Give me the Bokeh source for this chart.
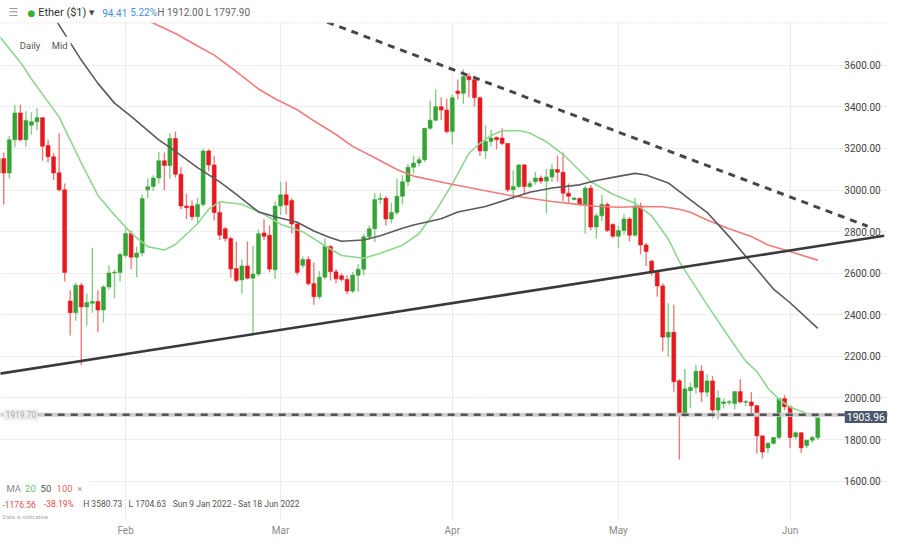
import numpy as np
import pandas as pd
from bokeh.plotting import figure
from bokeh.models import ColumnDataSource, FixedTicker, Label, BoxAnnotation, Span, Grid, LinearAxis
from bokeh.core.properties import value
from bokeh.embed import file_html
from bokeh.resources import INLINE

# ---------------- data (Ether $1, daily, mid) ----------------
START = "2022-01-09"
opens = [3080.5, 3152, 3082, 3242, 3371, 3242, 3312, 3328, 3348, 3214, 3160, 3083, 3001, 2467, 2410, 2542,
         2438, 2456, 2464, 2423, 2534, 2601, 2604, 2685, 2791, 2677, 2697, 3001, 3017, 3058, 3141, 3118,
         3248, 3076, 2923, 2923, 2872, 2931, 3188, 3121, 2892, 2814, 2767, 2623, 2568, 2635, 2576, 2596,
         2794, 2783, 2617, 2923, 2977, 2950, 2837, 2638, 2666, 2550, 2487, 2581, 2729, 2607, 2588, 2570,
         2514, 2590, 2619, 2775, 2814, 2954, 2960, 2861, 2892, 2970, 3040, 3110, 3130, 3146, 3297, 3336,
         3401, 3385, 3281, 3476, 3465, 3546, 3530, 3444, 3188, 3234, 3253, 3250, 3224, 3001, 3017, 3121,
         3017, 3040, 3058, 3043, 3063, 3099, 3086, 2985, 2954, 2959, 2931, 3009, 2822, 2876, 2931, 2834,
         2778, 2806, 2861, 2783, 2923, 2736, 2658, 2604, 2539, 2293, 2316, 2083, 1919.70, 2036, 2051, 2129,
         2028, 2082, 1942, 1973, 1978, 1973, 2031, 1979, 1981, 1963, 1818, 1760, 1782, 1810, 1997, 1958,
         1813, 1833, 1771, 1797, 1809.55]
highs = [3200, 3180, 3261, 3410, 3410, 3379, 3374, 3393, 3351, 3242, 3177, 3273, 3032, 2518, 2554, 2554,
         2503, 2721, 2518, 2542, 2638, 2615, 2700, 2814, 2806, 2729, 2978, 3055, 3071, 3183, 3180, 3273,
         3281, 3110, 2981, 2950, 2962, 3198, 3196, 3164, 2940, 2822, 2775, 2752, 2666, 2752, 2732, 2810,
         2860, 2830, 2946, 3040, 3040, 2960, 2845, 2680, 2682, 2650, 2610, 2767, 2735, 2620, 2600, 2590,
         2605, 2643, 2790, 2830, 2985, 2985, 2970, 2940, 3055, 3071, 3125, 3165, 3160, 3300, 3429, 3484,
         3445, 3440, 3460, 3530, 3580.73, 3561, 3550, 3450, 3312, 3290, 3258, 3297, 3226, 3094, 3125, 3125,
         3045, 3087, 3070, 3102, 3125, 3165, 3180, 3032, 2965, 2965, 3020, 3024, 2890, 2977, 2940, 2840,
         2830, 2884, 2870, 2962, 2940, 2745, 2666, 2612, 2550, 2456, 2448, 2090, 2140, 2075, 2160, 2156,
         2114, 2106, 2036, 1997, 1990, 2031, 2090, 1990, 2028, 1966, 1818, 1790, 1812, 2000, 2015, 1960,
         1840, 1835, 1800, 1820, 1912.00]
lows = [3055, 2931, 3055, 3206, 3234, 3208, 3266, 3289, 3141, 3133, 3048, 2993, 2560, 2300, 2371, 2160,
        2347, 2410, 2316, 2363, 2520, 2480, 2560, 2674, 2620, 2581, 2680, 2962, 2996, 3032, 3000, 3055,
        3060, 2908, 2861, 2855, 2838, 2920, 3090, 2853, 2760, 2752, 2578, 2555, 2503, 2570, 2305, 2585,
        2760, 2604, 2573, 2880, 2884, 2791, 2590, 2625, 2540, 2448, 2475, 2570, 2565, 2550, 2560, 2498,
        2505, 2511, 2590, 2760, 2750, 2930, 2830, 2840, 2880, 2930, 3020, 3080, 3115, 3135, 3290, 3330,
        3336, 3272, 3219, 3437, 3413, 3445, 3400, 3164, 3149, 3210, 3195, 3215, 2990, 2954, 3010, 2978,
        3010, 3025, 3030, 2887, 3040, 3040, 2946, 2939, 2950, 2925, 2791, 2806, 2767, 2850, 2798, 2770,
        2721, 2785, 2752, 2775, 2690, 2635, 2588, 2487, 2223, 2199, 2030, 1704.63, 1905, 1950, 2020, 1981,
        2005, 1903, 1896, 1950, 1966, 1945, 1973, 1960, 1927, 1732, 1709, 1735, 1775, 1800, 1942, 1760,
        1800, 1735, 1760, 1785, 1797.90]
closes = [3152, 3082, 3242, 3371, 3242, 3335, 3328, 3348, 3211, 3160, 3082, 3001, 2604, 2410, 2542, 2438,
          2459, 2464, 2423, 2534, 2601, 2604, 2690, 2791, 2677, 2697, 2959, 3016, 3058, 3141, 3118, 3248,
          3076, 2923, 2915, 2872, 2931, 3188, 3121, 2892, 2783, 2767, 2620, 2565, 2635, 2576, 2596, 2790,
          2778, 2620, 2923, 2977, 2928, 2837, 2604, 2666, 2550, 2487, 2581, 2729, 2607, 2573, 2570, 2514,
          2591, 2619, 2775, 2814, 2954, 2960, 2861, 2892, 2970, 3040, 3110, 3130, 3146, 3297, 3336, 3401,
          3385, 3281, 3444, 3464, 3546, 3530, 3444, 3188, 3234, 3250, 3242, 3224, 3001, 3017, 3121, 3017,
          3032, 3058, 3043, 3063, 3099, 3086, 2985, 2970, 2962, 2931, 3009, 2822, 2876, 2931, 2806, 2778,
          2806, 2861, 2783, 2923, 2736, 2705, 2604, 2539, 2293, 2316, 2078, 1919.70, 2044, 2051, 2129, 2028,
          2082, 1942, 2000, 1981, 1982, 2031, 1981, 1983, 1963, 1818, 1740, 1782, 1810, 1997, 1958, 1810,
          1833, 1760, 1797, 1809.55, 1903.96]

ma20_dates = ["2022-01-09", "2022-01-13", "2022-01-15", "2022-01-18", "2022-01-20", "2022-01-24", "2022-01-27",
              "2022-01-30", "2022-02-02", "2022-02-05", "2022-02-08", "2022-02-10", "2022-02-14", "2022-02-16",
              "2022-02-18", "2022-02-22", "2022-02-26", "2022-03-01", "2022-03-05", "2022-03-09", "2022-03-12",
              "2022-03-16", "2022-03-19", "2022-03-23", "2022-03-26", "2022-03-29", "2022-04-01", "2022-04-04",
              "2022-04-06", "2022-04-08", "2022-04-10", "2022-04-13", "2022-04-15", "2022-04-18", "2022-04-21",
              "2022-04-23", "2022-04-26", "2022-04-30", "2022-05-04", "2022-05-07", "2022-05-10", "2022-05-12",
              "2022-05-14", "2022-05-17", "2022-05-21", "2022-05-24", "2022-05-26", "2022-05-28", "2022-05-30",
              "2022-06-01", "2022-06-03", "2022-06-06"]
ma20_values = [3746, 3615, 3534, 3424, 3351, 3131, 2974, 2880, 2793, 2728, 2712, 2738, 2838, 2907, 2944, 2932,
               2883, 2835, 2800, 2732, 2685, 2672, 2696, 2734, 2791, 2899, 3030, 3176, 3225, 3262, 3285, 3286,
               3274, 3232, 3172, 3119, 3040, 2980, 2936, 2876, 2765, 2656, 2573, 2449, 2291, 2176, 2128, 2047,
               1994, 1956, 1936, 1904]

ma50_dates = ["2022-01-18", "2022-01-20", "2022-01-21", "2022-01-24", "2022-01-27", "2022-01-30", "2022-02-02",
              "2022-02-07", "2022-02-10", "2022-02-14", "2022-02-18", "2022-02-21", "2022-02-25", "2022-02-28",
              "2022-03-04", "2022-03-07", "2022-03-10", "2022-03-12", "2022-03-16", "2022-03-19", "2022-03-23",
              "2022-03-25", "2022-03-30", "2022-04-02", "2022-04-07", "2022-04-12", "2022-04-15", "2022-04-19",
              "2022-04-24", "2022-04-27", "2022-04-30", "2022-05-04", "2022-05-06", "2022-05-10", "2022-05-12",
              "2022-05-14", "2022-05-17", "2022-05-21", "2022-05-25", "2022-05-29", "2022-06-01", "2022-06-06"]
ma50_values = [3877, 3793, 3751, 3625, 3513, 3418, 3354, 3241, 3186, 3108, 3039, 2979, 2895, 2872, 2845, 2803,
               2771, 2754, 2760, 2780, 2816, 2832, 2862, 2894, 2921, 2964, 2989, 3010, 3025, 3046, 3061, 3080,
               3072, 3034, 2994, 2953, 2893, 2776, 2650, 2524, 2458, 2335]

ma100_dates = ["2022-02-03", "2022-02-05", "2022-02-10", "2022-02-14", "2022-02-17", "2022-02-21", "2022-02-25",
               "2022-02-28", "2022-03-04", "2022-03-07", "2022-03-11", "2022-03-14", "2022-03-18", "2022-03-22",
               "2022-03-25", "2022-03-31", "2022-04-06", "2022-04-11", "2022-04-14", "2022-04-19", "2022-04-24",
               "2022-04-27", "2022-05-01", "2022-05-05", "2022-05-09", "2022-05-12", "2022-05-14", "2022-05-17",
               "2022-05-21", "2022-05-25", "2022-05-28", "2022-06-01", "2022-06-06"]
ma100_values = [3840, 3815, 3753, 3693, 3649, 3570, 3486, 3439, 3386, 3333, 3267, 3210, 3155, 3099, 3067, 3033,
                3001, 2976, 2964, 2945, 2930, 2922, 2917, 2921, 2920, 2908, 2893, 2856, 2814, 2777, 2736, 2704,
                2663]

support_dates = ["2022-01-09", "2022-06-18"]
support_values = [2116, 2780]
resist_dates = ["2022-03-05", "2022-06-15"]
resist_values = [3852, 2826]
level_dates = ["2022-01-08", "2022-06-20"]
level_values = [1919.70, 1919.70]
last_price = 1903.96

y_ticks = [1600, 1800, 2000, 2200, 2400, 2600, 2800, 3000, 3200, 3400, 3600]
month_dates = ["2022-02-01", "2022-03-01", "2022-04-01", "2022-05-01", "2022-06-01"]
month_labels = ["Feb", "Mar", "Apr", "May", "Jun"]

# ---------------- helpers ----------------
FONT = "Roboto"
SYM = "DejaVu Sans"
start = pd.Timestamp(START)


def days(ds):
    return [(pd.Timestamp(s) - start).days for s in ds]


X_LO, X_HI = 0.413, 160.77
Y_LO, Y_HI = 1410.9, 3911.5
REF_W, REF_H = 902.0, 535.5


def rx(px):
    return X_LO + px / REF_W * (X_HI - X_LO)


def ry(py):
    return Y_HI - py / REF_H * (Y_HI - Y_LO)


p = figure(width=888, height=538, x_range=(X_LO, X_HI), y_range=(Y_LO, Y_HI),
           output_backend="svg", toolbar_location=None, y_axis_location=None,
           min_border=0, min_border_bottom=18)
p.outline_line_color = None
p.background_fill_color = "white"
p.border_fill_color = "white"

month_ticks = days(month_dates)
p.xaxis.ticker = FixedTicker(ticks=month_ticks)
p.xaxis.major_label_overrides = {t: l for t, l in zip(month_ticks, month_labels)}
p.xaxis.axis_line_color = None
p.xaxis.major_tick_line_color = None
p.xaxis.minor_tick_line_color = None
p.xaxis.major_tick_out = 0
p.xaxis.major_label_standoff = 4
p.xaxis.major_label_text_font = FONT
p.xaxis.major_label_text_font_size = "10px"
p.xaxis.major_label_text_color = "#8a8a8a"
base_axis = LinearAxis(ticker=FixedTicker(ticks=[]), axis_line_color="#c6c6d6", axis_line_width=1.2,
                       major_tick_line_color=None, minor_tick_line_color=None,
                       major_tick_out=0, major_tick_in=0, major_label_standoff=0,
                       major_label_text_font_size="0px")
p.add_layout(base_axis, "below")
p.xgrid.grid_line_color = "#ebebeb"
for g in p.ygrid:
    g.visible = False
p.add_layout(Grid(dimension=1, ticker=FixedTicker(ticks=y_ticks),
                  grid_line_color="#e0e0e0", grid_line_dash="2 2"))

# ---------------- candles ----------------
o = np.array(opens, float)
h = np.array(highs, float)
lo = np.array(lows, float)
c = np.array(closes, float)
xd = np.array(days(pd.date_range(START, periods=len(opens), freq="D").strftime("%Y-%m-%d")), float)
up = c >= o
body_bot = np.minimum(o, c)
body_top = np.maximum(np.maximum(o, c), body_bot + 4)
src = ColumnDataSource(dict(
    x=xd, top=body_top, bottom=body_bot, high=h, low=lo,
    color=np.where(up, "#36a336", "#e5191e"),
    wick=np.where(up, "#86cc86", "#f07a7a"),
))
p.segment(x0="x", y0="low", x1="x", y1="high", line_color="wick", line_width=1.4, source=src)
p.vbar(x="x", width=0.72, top="top", bottom="bottom", fill_color="color",
       line_color="color", line_width=0.5, source=src)

# ---------------- moving averages ----------------
p.line(days(ma20_dates), ma20_values, line_color="#8fd68f", line_width=1.6)
p.line(days(ma100_dates), ma100_values, line_color="#f17c7c", line_width=1.6)
p.line(days(ma50_dates), ma50_values, line_color="#5a5a5a", line_width=1.6)

# ---------------- trend lines / level ----------------
p.line(days(level_dates), level_values, line_color="#cfcfcf", line_width=4)
p.line(days(level_dates), level_values, line_color="#555555", line_width=2.5, line_dash="7 6")
p.line(days(support_dates), support_values, line_color="#3a3a3a", line_width=2.6)
p.line(days(resist_dates), resist_values, line_color="#474747", line_width=3, line_dash="7 6")

# ---------------- price axis labels (inside, right) ----------------
p.text(x=[rx(894)] * len(y_ticks), y=y_ticks, text=[f"{v:.2f}" for v in y_ticks],
       text_align="right", text_baseline="middle", text_font=value(FONT),
       text_font_size="10px", text_color="#444444")

# ---------------- header ----------------
p.add_layout(BoxAnnotation(bottom=ry(23), fill_color="white", fill_alpha=1.0, line_alpha=0))
p.add_layout(BoxAnnotation(left=rx(0), right=rx(90), bottom=ry(512), top=ry(492),
                           fill_color="white", fill_alpha=1.0, line_alpha=0))
p.add_layout(Span(location=ry(23), dimension="width", line_color="#d6d6d6", line_dash="1 2", line_width=1))


def lab(text, px, py, color, size, font=FONT, **kw):
    p.add_layout(Label(x=rx(px), y=ry(py), text=text, text_color=color, text_font_size=size,
                       text_font=font, text_baseline="middle", **kw))


lab("\u2630", 8, 12, "#9a9a9a", "11px", SYM)
lab("\u25cf", 27.5, 12.5, "#3cae3c", "9px", SYM)
lab("Ether ($1)", 38.3, 12.5, "#333333", "11px")
lab("\u25bc", 90, 13, "#444444", "7px", SYM)
lab("94.41", 103.3, 12.5, "#4a8fd6", "10px")
lab("5.22%", 131.7, 12.5, "#4a8fd6", "10px")
lab("H 1912.00 L 1797.90", 159.3, 12.5, "#666666", "10px")

lab("Daily", 16.5, 46, "#555555", "9.5px", background_fill_color="white", padding=3)
lab("Mid", 49, 46, "#555555", "9.5px", background_fill_color="white", padding=3)

# ---------------- bottom legend ----------------
lab("MA", 6, 503, "#8a8a8a", "9.5px")
lab("20", 25, 503, "#6cc06c", "9.5px")
lab("50", 40.7, 503, "#555555", "9.5px")
lab("100", 57, 503, "#e66a6a", "9.5px")
lab("\u00d7", 78, 503, "#9a9a9a", "9.5px")
lab("-1176.56", 2, 518.7, "#e05050", "8.5px")
lab("-38.19%", 44, 518.7, "#e05050", "8.5px")
lab("H 3580.73", 84, 518.7, "#555555", "8.5px")
lab("L 1704.63", 130, 518.7, "#555555", "8.5px")
lab("Sun 9 Jan 2022 - Sat 18 Jun 2022", 175, 518.7, "#555555", "8.5px")
lab("Data is indicative", 2, 531.7, "#aaaaaa", "6px")

# ---------------- price tags ----------------
p.add_layout(Label(x=rx(3), y=level_values[0], text=f"{level_values[0]:.2f}", text_color="#aaaaaa",
                   text_font=FONT, text_font_size="8.5px", text_baseline="middle",
                   background_fill_color="#eeeeee", padding=2))
p.add_layout(Label(x=rx(879), y=ry(429), text=f"{last_price:.2f}", text_color="white",
                   text_font=FONT, text_font_size="10.5px", text_baseline="middle", text_align="center",
                   background_fill_color="#4b586b", padding=2))

open("out.html", "w").write(file_html(p, INLINE))
